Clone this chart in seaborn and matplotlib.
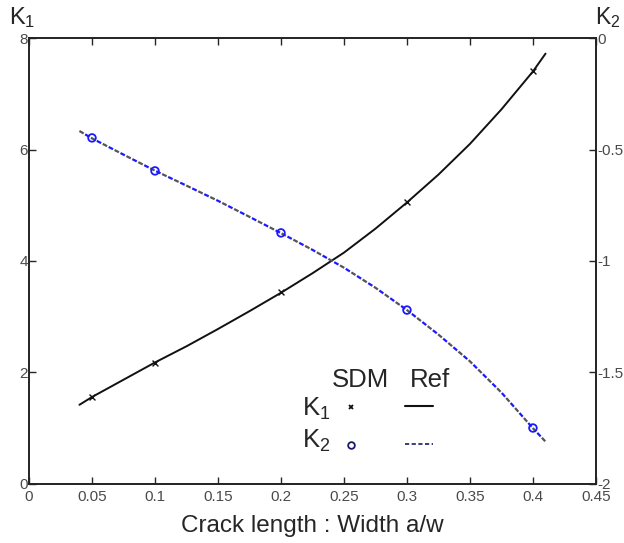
import matplotlib
matplotlib.use("Agg")
import matplotlib.pyplot as plt
from matplotlib.lines import Line2D
import seaborn as sns
import pandas as pd

# SDM results (markers)
sdm_x = [0.05, 0.1, 0.2, 0.3, 0.4]
sdm_k1 = [1.56, 2.17, 3.44, 5.05, 7.40]
sdm_k2 = [-0.448, -0.596, -0.874, -1.22, -1.749]

# Reference solution (curves)
ref_x = [0.04, 0.05, 0.075, 0.1, 0.125, 0.15, 0.175, 0.2, 0.225, 0.25, 0.275,
         0.3, 0.325, 0.35, 0.375, 0.4, 0.41]
ref_k1 = [1.42, 1.56, 1.87, 2.18, 2.47, 2.78, 3.10, 3.43, 3.78, 4.15, 4.58,
          5.05, 5.55, 6.10, 6.72, 7.40, 7.72]
ref_k2 = [-0.417, -0.450, -0.523, -0.595, -0.662, -0.730, -0.802, -0.875,
          -0.950, -1.030, -1.120, -1.220, -1.330, -1.450, -1.590, -1.750, -1.810]

x_ticks = [0, 0.05, 0.1, 0.15, 0.2, 0.25, 0.3, 0.35, 0.4, 0.45]
x_tick_labels = ["0", "0.05", "0.1", "0.15", "0.2", "0.25", "0.3", "0.35", "0.4", "0.45"]
k1_ticks = [0, 2, 4, 6, 8]
k2_ticks = [-2, -1.5, -1, -0.5, 0]
k2_tick_labels = ["-2", "-1.5", "-1", "-0.5", "0"]

sns.set_style("white")
plt.rcParams["font.family"] = ["Liberation Sans", "DejaVu Sans"]
plt.rcParams["mathtext.fontset"] = "custom"
plt.rcParams["mathtext.rm"] = "Liberation Sans"
plt.rcParams["mathtext.it"] = "Liberation Sans"

ref = pd.DataFrame({"x": ref_x, "k1": ref_k1, "k2": ref_k2})
sdm = pd.DataFrame({"x": sdm_x, "k1": sdm_k1, "k2": sdm_k2})

fig = plt.figure(figsize=(6.24, 5.43), dpi=100)
ax = fig.add_axes([0.0465, 0.1087, 0.9085, 0.8213])
ax2 = ax.twinx()

tick_color = "#4a4a4a"
for a in (ax, ax2):
    for s in a.spines.values():
        s.set_color("#222222")
        s.set_linewidth(1.2)

# K1 on left axis
sns.lineplot(data=ref, x="x", y="k1", ax=ax, color="#111111", linewidth=1.4)
sns.scatterplot(data=sdm, x="x", y="k1", ax=ax, marker="x", color="#111111",
                s=18, linewidth=1.0, zorder=5)

# K2 on right axis: alternating grey and blue dashes
sns.lineplot(data=ref, x="x", y="k2", ax=ax2, color="#555555", linewidth=1.6)
ax2.lines[-1].set_linestyle((0, (2.2, 3.8)))
sns.lineplot(data=ref, x="x", y="k2", ax=ax2, color="#1a1aff", linewidth=1.6)
ax2.lines[-1].set_linestyle((3.0, (2.2, 3.8)))
sns.scatterplot(data=sdm, x="x", y="k2", ax=ax2, marker="o", facecolor="none",
                edgecolor="#1a1aff", s=30, linewidth=1.3, zorder=5)

ax.set_xlim(0, 0.45)
ax.set_ylim(0, 8)
ax2.set_ylim(-2, 0)
ax.set_xticks(x_ticks)
ax.set_xticklabels(x_tick_labels)
ax.set_yticks(k1_ticks)
ax.set_yticklabels([str(v) for v in k1_ticks])
ax2.set_yticks(k2_ticks)
ax2.set_yticklabels(k2_tick_labels)

ax.tick_params(axis="both", direction="in", length=5, width=1, labelsize=11,
               labelcolor=tick_color, pad=1, top=True, bottom=True, left=True)
ax.tick_params(axis="x", pad=4)
ax2.tick_params(axis="y", direction="in", length=5, width=1, labelsize=11,
                labelcolor=tick_color, pad=1, right=True)
ax.set_ylabel("")
ax2.set_ylabel("")
ax.set_xlabel("Crack length : Width a/w", fontsize=17.5, labelpad=8)

fig.text(0.014, 0.968, "K$_1$", fontsize=17, ha="left", va="center")
fig.text(0.995, 0.968, "K$_2$", fontsize=16.5, ha="right", va="center")

# Legend table: SDM markers vs reference lines
fs = 18.5
fig.text(0.577, 0.300, "SDM", fontsize=fs, ha="center", va="center")
fig.text(0.689, 0.300, "Ref", fontsize=fs, ha="center", va="center")
fig.text(0.484, 0.247, "K$_1$", fontsize=fs, ha="left", va="center")
fig.text(0.484, 0.188, "K$_2$", fontsize=fs, ha="left", va="center")
fig.add_artist(Line2D([0.5625], [0.251], marker="x", color="#111111",
                      markersize=3.5, markeredgewidth=1.3, transform=fig.transFigure))
fig.add_artist(Line2D([0.5625], [0.180], marker="o", markerfacecolor="none",
                      markeredgecolor="#1a1a66", markersize=4.8, markeredgewidth=1.3,
                      transform=fig.transFigure))
fig.add_artist(Line2D([0.649, 0.694], [0.252, 0.252], color="#111111",
                      linewidth=1.5, transform=fig.transFigure))
fig.add_artist(Line2D([0.649, 0.694], [0.182, 0.182], color="#1a1a66",
                      linewidth=1.2, linestyle=(0, (2.5, 1.5)), transform=fig.transFigure))

fig.savefig("out.png", dpi=100)
